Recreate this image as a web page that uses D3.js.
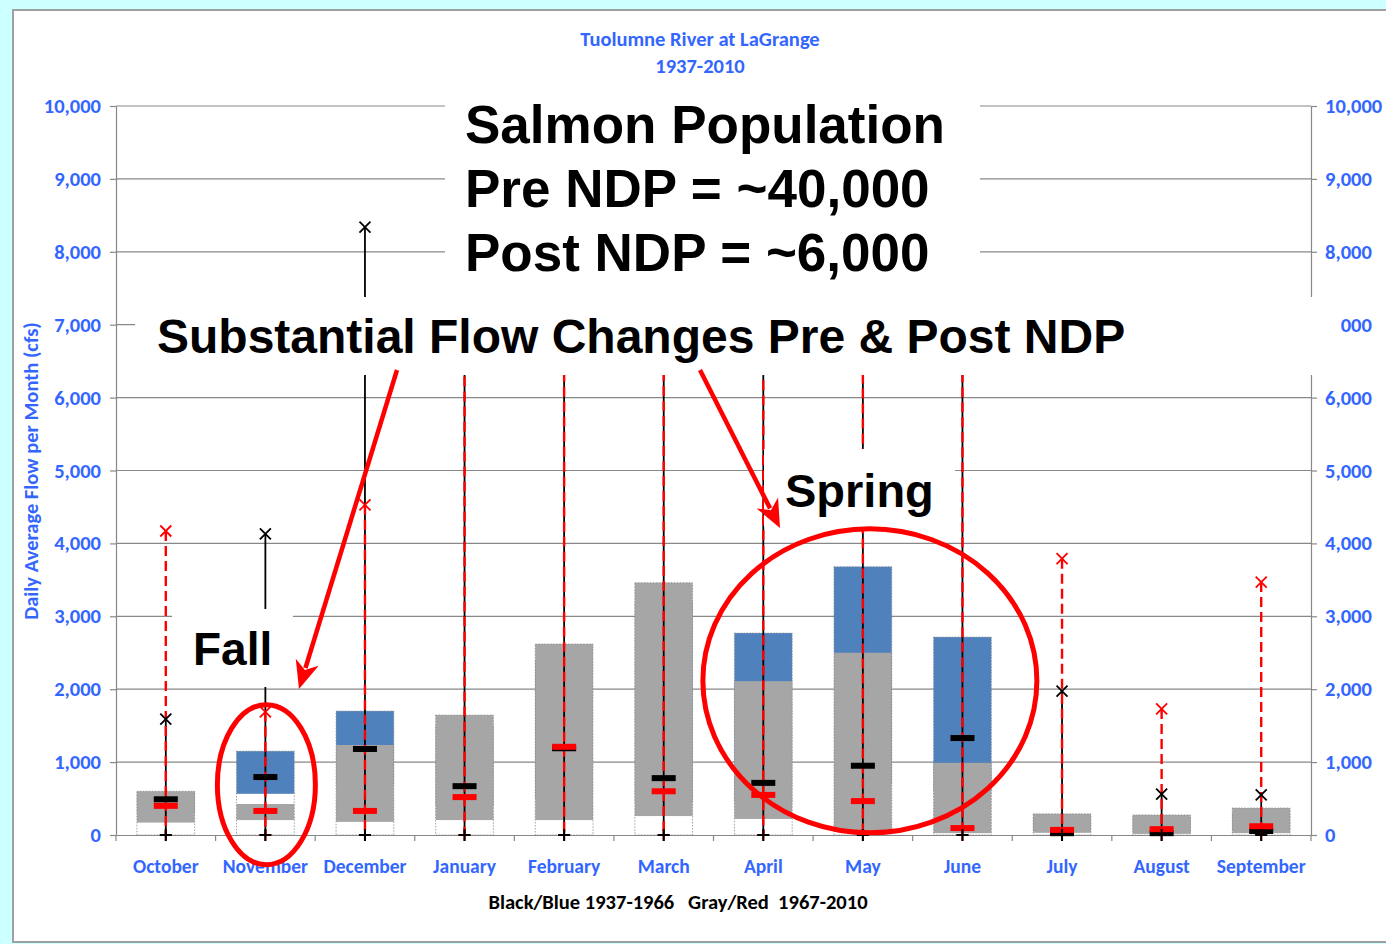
<!DOCTYPE html>
<html><head><meta charset="utf-8">
<script src="https://cdn.jsdelivr.net/npm/d3@7/dist/d3.min.js"></script>
<style>
html,body{margin:0;padding:0;background:#ccffff;}
svg{display:block;}
</style></head>
<body>
<script>
// ---- data ----
const months = ["October","November","December","January","February","March","April","May","June","July","August","September"];
const yTicks = [0,1000,2000,3000,4000,5000,6000,7000,8000,9000,10000];
// 1937-1966 (black / blue)
const preMin    = [0,0,0,0,0,0,0,0,0,0,0,0];
const preQ1     = [300,565,700,400,500,450,450,700,600,60,40,60];
const preMedian = [490,795,1180,670,1190,780,715,950,1330,25,25,55];
const preQ3     = [590,1150,1700,1500,2400,3200,2770,3680,2715,250,240,300];
const preMax    = [1590,4130,8340,7350,9500,9800,9200,9900,9600,1975,560,550];
// 1967-2010 (gray / red)
const postMin    = [0,0,0,0,0,0,0,0,0,0,0,0];
const postQ1     = [170,205,180,205,205,260,220,45,25,30,15,25];
const postMedian = [400,330,330,520,1210,600,550,465,95,70,80,120];
const postQ3     = [600,425,1235,1645,2620,3460,2110,2500,990,290,275,370];
const postMax    = [4170,1690,4530,6700,8000,7600,8500,8800,8200,3790,1730,3470];

const titleLines = ["Tuolumne River at LaGrange","1937-2010"];
const yTitle = "Daily Average Flow per Month (cfs)";
const footNote = "Black/Blue 1937-1966   Gray/Red  1967-2010";
const salmonLines = ["Salmon Population","Pre NDP = ~40,000","Post NDP = ~6,000"];
const flowNote = "Substantial Flow Changes Pre & Post NDP";

// ---- layout ----
const W = 1386, H = 944;
const L = 116, R = 1311, T = 106, B = 835;
const blueTxt = "#3366ff";
const uiFont = "Carlito, Calibri, Lato, 'Open Sans', sans-serif";
const bigFont = "'Liberation Sans', Arial, sans-serif";
const gridCol = "#888888";

const svg = d3.select("body").append("svg").attr("width", W).attr("height", H);
svg.append("rect").attr("x",0).attr("y",0).attr("width",W).attr("height",H).attr("fill","#ccffff");
svg.append("rect").attr("x",13).attr("y",10).attr("width",W).attr("height",932)
  .attr("fill","#fff").attr("stroke","#a0a0a0").attr("stroke-width",2);

const x = d3.scaleBand().domain(months).range([L,R]).paddingInner(0).paddingOuter(0);
const y = d3.scaleLinear().domain([0,10000]).range([B,T]);
const cx = m => x(m) + x.bandwidth()/2;
const bw = x.bandwidth()*0.58;

// gridlines
svg.append("g").selectAll("line").data(yTicks.filter(v=>v>0)).join("line")
  .attr("x1",L).attr("x2",R).attr("y1",d=>y(d)).attr("y2",d=>y(d))
  .attr("stroke",gridCol).attr("stroke-width",1.2);

// axes
function styleAxis(g, fs){
  g.selectAll(".domain").attr("stroke",gridCol).attr("stroke-width",1.2);
  g.selectAll(".tick line").attr("stroke",gridCol).attr("stroke-width",1.2);
  g.selectAll("text").attr("fill",blueTxt).attr("font-family",uiFont)
   .attr("font-weight","bold").attr("font-size",fs);
}
const fmt = d3.format(",");
svg.append("g").attr("transform",`translate(${L},0)`)
  .call(d3.axisLeft(y).tickValues(yTicks).tickFormat(fmt).tickSize(6).tickPadding(9).tickSizeOuter(0))
  .call(g=>styleAxis(g,20.5));
svg.append("g").attr("transform",`translate(${R},0)`)
  .call(d3.axisRight(y).tickValues(yTicks).tickFormat(fmt).tickSize(6).tickPadding(8).tickSizeOuter(0))
  .call(g=>styleAxis(g,20.5));
svg.append("g").attr("transform",`translate(0,${B})`)
  .call(d3.axisBottom(x).tickSize(0).tickPadding(24).tickSizeOuter(0))
  .call(g=>styleAxis(g,19.5));
// category boundary ticks
svg.append("g").selectAll("line").data(months.map(m=>x(m)).concat([R])).join("line")
  .attr("x1",d=>d).attr("x2",d=>d).attr("y1",B).attr("y2",B+6)
  .attr("stroke",gridCol).attr("stroke-width",1.2);

// boxes
const idx = d3.range(months.length);
const gB = svg.append("g");
gB.selectAll("rect.pre").data(idx).join("rect").attr("class","pre")
  .attr("x",i=>cx(months[i])-bw/2).attr("width",bw)
  .attr("y",i=>y(preQ3[i])).attr("height",i=>y(preQ1[i])-y(preQ3[i]))
  .attr("fill","#4f81bd");
gB.selectAll("rect.post").data(idx).join("rect").attr("class","post")
  .attr("x",i=>cx(months[i])-bw/2).attr("width",bw)
  .attr("y",i=>y(postQ3[i])).attr("height",i=>y(postQ1[i])-y(postQ3[i]))
  .attr("fill","#a6a6a6");
gB.selectAll("rect.out").data(idx).join("rect").attr("class","out")
  .attr("x",i=>cx(months[i])-bw/2).attr("width",bw)
  .attr("y",i=>y(Math.max(preQ3[i],postQ3[i]))).attr("height",i=>B-y(Math.max(preQ3[i],postQ3[i])))
  .attr("fill","none").attr("stroke","#8a8a8a").attr("stroke-width",0.8).attr("stroke-dasharray","1.5,1.5");

// whiskers
const gW = svg.append("g");
gW.selectAll("line.pre").data(idx).join("line").attr("class","pre")
  .attr("x1",i=>cx(months[i])).attr("x2",i=>cx(months[i]))
  .attr("y1",i=>y(preMin[i])).attr("y2",i=>y(preMax[i]))
  .attr("stroke","#000").attr("stroke-width",1.8);
gW.selectAll("line.post").data(idx).join("line").attr("class","post")
  .attr("x1",i=>cx(months[i])).attr("x2",i=>cx(months[i]))
  .attr("y1",i=>y(postMax[i])).attr("y2",i=>y(postMin[i]))
  .attr("stroke","#ff0000").attr("stroke-width",2.4).attr("stroke-dasharray","10,5");

// medians
function medians(arr, col){
  gW.append("g").selectAll("rect").data(idx).join("rect")
    .attr("x",i=>cx(months[i])-12).attr("width",24)
    .attr("y",i=>y(arr[i])-3).attr("height",6).attr("fill",col);
}
medians(preMedian,"#000");
medians(postMedian,"#ff0000");

// markers
function xMark(arr,col){
  const s=5.5;
  const g = gW.append("g");
  idx.forEach(i=>{
    const px=cx(months[i]), py=y(arr[i]);
    g.append("path").attr("d",`M${px-s},${py-s}L${px+s},${py+s}M${px-s},${py+s}L${px+s},${py-s}`)
      .attr("stroke",col).attr("stroke-width",1.8).attr("fill","none");
  });
}
function plusMark(arr,col){
  const s=6;
  const g = gW.append("g");
  idx.forEach(i=>{
    const px=cx(months[i]), py=y(arr[i]);
    g.append("path").attr("d",`M${px-s},${py}L${px+s},${py}M${px},${py-s}L${px},${py+s}`)
      .attr("stroke",col).attr("stroke-width",2).attr("fill","none");
  });
}
xMark(postMax,"#ff0000");
xMark(preMax,"#000");
plusMark(postMin,"#ff0000");
plusMark(preMin,"#000");

// titles
svg.append("text").attr("x",700).attr("y",46).attr("text-anchor","middle")
  .attr("fill",blueTxt).attr("font-family",uiFont).attr("font-weight","bold").attr("font-size",20.5)
  .text(titleLines[0]);
svg.append("text").attr("x",700).attr("y",73).attr("text-anchor","middle")
  .attr("fill",blueTxt).attr("font-family",uiFont).attr("font-weight","bold").attr("font-size",20.5)
  .text(titleLines[1]);
svg.append("text").attr("transform","translate(38,471) rotate(-90)").attr("text-anchor","middle")
  .attr("fill",blueTxt).attr("font-family",uiFont).attr("font-weight","bold").attr("font-size",20.5)
  .text(yTitle);
svg.append("text").attr("x",678).attr("y",909).attr("text-anchor","middle")
  .attr("fill","#000").attr("font-family",uiFont).attr("font-weight","bold").attr("font-size",20.5)
  .attr("xml:space","preserve").style("white-space","pre")
  .text(footNote);

// annotation boxes (white backgrounds)
function box(x0,y0,w,h){ svg.append("rect").attr("x",x0).attr("y",y0).attr("width",w).attr("height",h).attr("fill","#fff"); }
box(445,80,535,217);
box(135,297,1205,78);
box(172,609,121,78);
box(764,449,191,78);

function bigText(t,xx,yy,fs){
  svg.append("text").attr("x",xx).attr("y",yy).attr("fill","#000")
    .attr("font-family",bigFont).attr("font-weight","bold").attr("font-size",fs).text(t);
}
bigText(salmonLines[0],465,143,53);
bigText(salmonLines[1],465,207,53);
bigText(salmonLines[2],465,271,53);
bigText(flowNote,157,353,48);
bigText("Fall",193,665,46);
bigText("Spring",785,507,47);

// arrows
function arrow(x1,y1,x2,y2){
  const a = Math.atan2(y2-y1,x2-x1), hl=28, hw=12;
  const bx = x2 - hl*Math.cos(a), by = y2 - hl*Math.sin(a);
  svg.append("line").attr("x1",x1).attr("y1",y1).attr("x2",bx+6*Math.cos(a)).attr("y2",by+6*Math.sin(a))
    .attr("stroke","#ff0000").attr("stroke-width",4.5);
  const p1=[bx+hw*Math.sin(a), by-hw*Math.cos(a)], p2=[bx-hw*Math.sin(a), by+hw*Math.cos(a)];
  svg.append("path").attr("d",`M${x2},${y2}L${p1[0]},${p1[1]}L${bx+8*Math.cos(a)},${by+8*Math.sin(a)}L${p2[0]},${p2[1]}Z`)
    .attr("fill","#ff0000");
}
arrow(397,370,299,689);
arrow(700,370,780,528);

// ellipses
svg.append("ellipse").attr("cx",cx("November")+1).attr("cy",y(690)).attr("rx",49).attr("ry",80)
  .attr("fill","none").attr("stroke","#ff0000").attr("stroke-width",5);
svg.append("ellipse").attr("cx",(cx("April")+cx("June"))/2+7).attr("cy",y(2115)).attr("rx",167).attr("ry",152)
  .attr("fill","none").attr("stroke","#ff0000").attr("stroke-width",5);
</script>
</body></html>
